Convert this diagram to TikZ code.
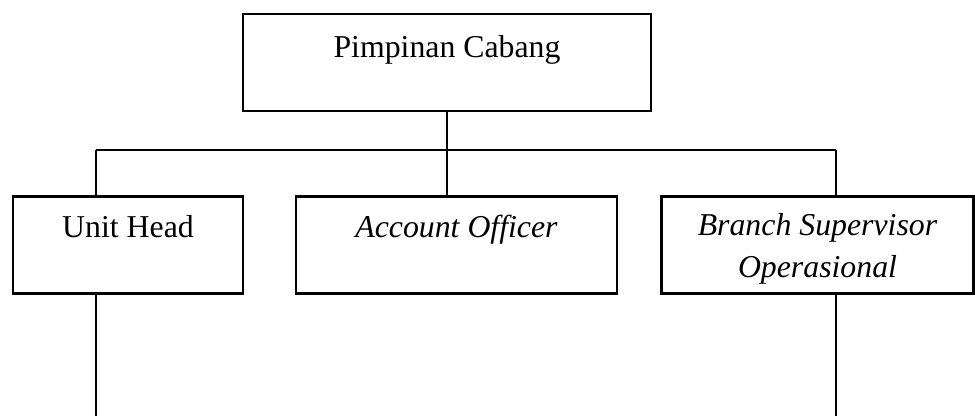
\documentclass[tikz,border=0pt]{standalone}
\usepackage{fontspec}
\setmainfont{Liberation Serif}
\usepackage{tikz}

\begin{document}
\begin{tikzpicture}[
        x=1pt, y=-1pt,
        box/.style={draw, line width=2.6pt, inner sep=0pt, align=center,
                    minimum height=97pt, text height=41pt, text depth=56pt,
                    font=\fontsize{31.8}{42}\selectfont},
        link/.style={line width=2.6pt}
    ]
        \useasboundingbox (0,0) rectangle (975,416);
        \node[box, minimum width=408pt, text height=43pt, text depth=54pt] (pimpinan) at (447,62.5) {Pimpinan Cabang};
        \node[box, minimum width=230pt] (unithead) at (128,245) {Unit Head};
        \node[box, minimum width=321pt] (officer) at (456.5,245) {\textit{Account Officer}};
        % two lines: the base line is the lower one
        \node[box, minimum width=312pt, text height=81pt, text depth=16pt] (supervisor) at (817.5,245) {\textit{Branch Supervisor}\\ \textit{Operasional}};
        \coordinate (busL) at (96,150);
        \coordinate (busR) at (836,150);
        \coordinate (endL) at (96,416);
        \coordinate (endR) at (836,416);
        \draw[link] (pimpinan.south) -- (pimpinan.south |- busL);
        \draw[link] (busL) -- (busR);
        \draw[link] (busL) -- (busL |- unithead.north);
        \draw[link] (officer.north -| pimpinan.south) -- (pimpinan.south |- busL);
        \draw[link] (busR) -- (busR |- supervisor.north);
        \draw[link] (unithead.south -| endL) -- (endL);
        \draw[link] (supervisor.south -| endR) -- (endR);
    \end{tikzpicture}
\end{document}
